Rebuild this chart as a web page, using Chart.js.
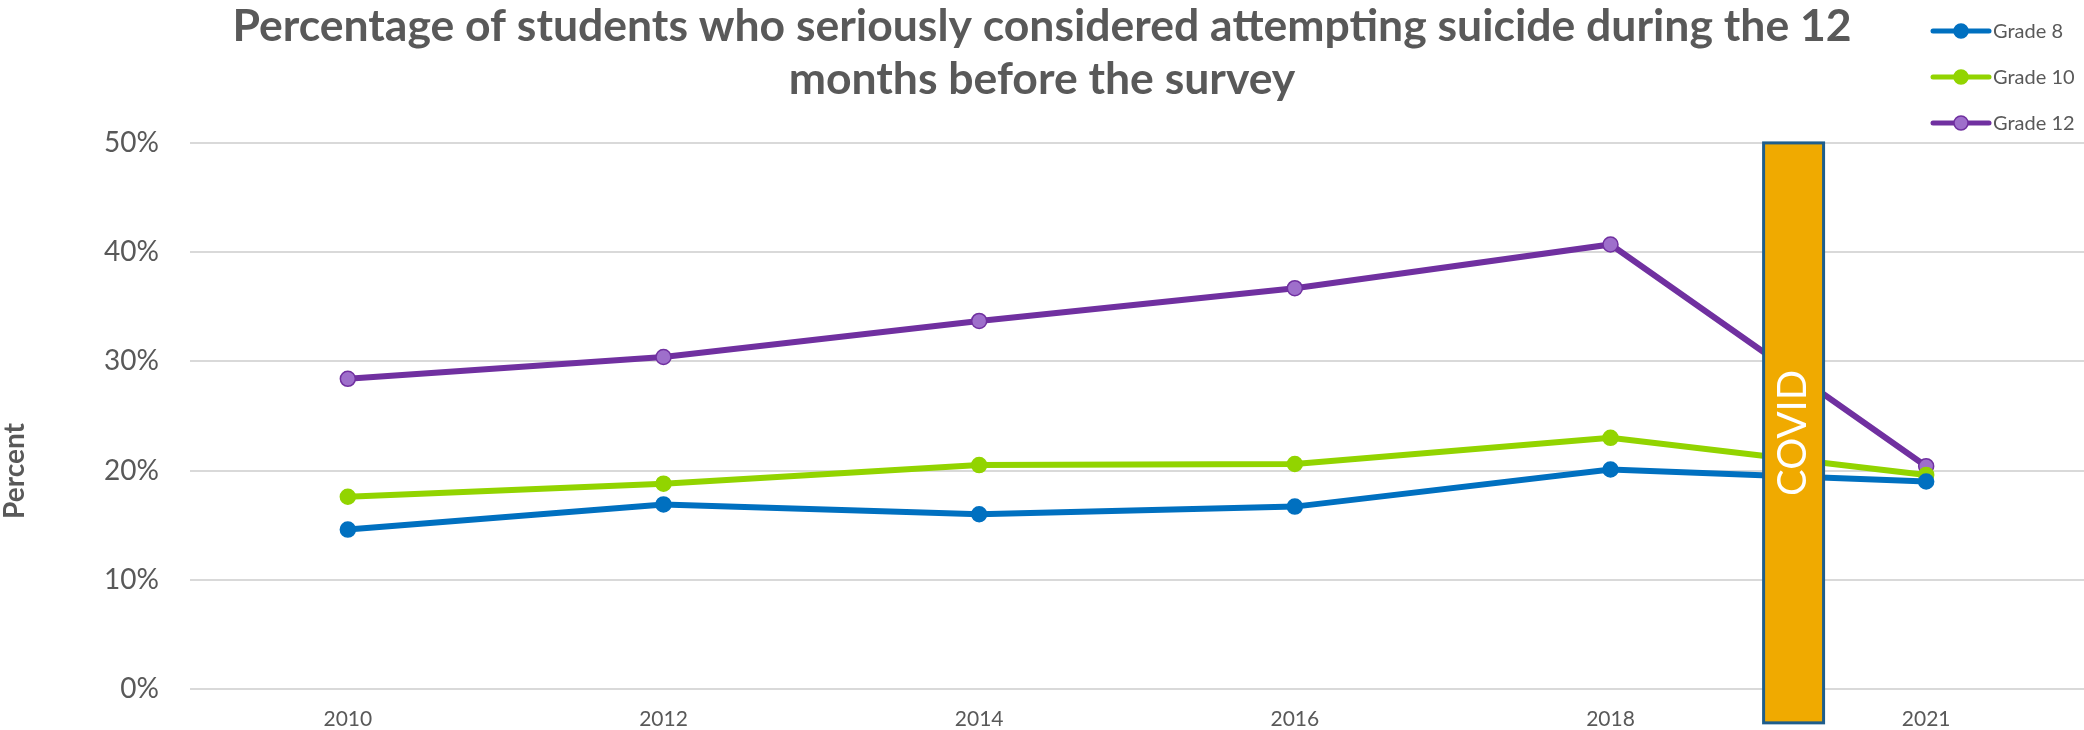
<!DOCTYPE html>
<html>
<head>
<meta charset="utf-8">
<title>Students who seriously considered attempting suicide</title>
<script src="https://cdn.jsdelivr.net/npm/chart.js@4.4.1/dist/chart.umd.min.js"></script>
<style>
  html, body { margin: 0; padding: 0; background: #fff; }
  canvas { display: block; }
</style>
</head>
<body>
<canvas id="chart" width="2084" height="730"></canvas>
<script>
var years = ['2010', '2012', '2014', '2016', '2018', '2021'];
var grade8 = [14.6, 16.9, 16.0, 16.7, 20.1, 19.0];
var grade10 = [17.6, 18.8, 20.5, 20.6, 23.0, 19.6];
var grade12 = [28.4, 30.4, 33.7, 36.7, 40.7, 20.4];
var percentTicks = [0, 10, 20, 30, 40, 50];

// covid band: position in category units (2018 = 4), height in percent
var covidCenter = 4.58;
var covidWidth = 0.19;
var covidTop = 50;
var covidBottom = -3.1;

var grey = '#595959';

document.addEventListener('DOMContentLoaded', function() {
  var ctx = document.getElementById('chart').getContext('2d');

  // orange box with vertical label, drawn over the lines
  var covidBand = {
    id: 'covidBand',
    afterDatasetsDraw: function(chart) {
      var c = chart.ctx;
      var x = chart.scales.x;
      var y = chart.scales.y;
      var step = x.getPixelForValue(1) - x.getPixelForValue(0);
      var cx = x.getPixelForValue(covidCenter);
      var w = covidWidth * step;
      var top = y.getPixelForValue(covidTop);
      var bottom = y.getPixelForValue(covidBottom);
      c.save();
      c.fillStyle = '#F0AA00';
      c.fillRect(cx - w / 2, top, w, bottom - top);
      c.strokeStyle = '#1F5E8C';
      c.lineWidth = 3;
      c.strokeRect(cx - w / 2, top, w, bottom - top);
      c.translate(cx, (top + bottom) / 2);
      c.rotate(-Math.PI / 2);
      c.fillStyle = '#fff';
      c.font = '40px Lato';
      c.textAlign = 'center';
      c.textBaseline = 'middle';
      c.fillText('COVID', 0, 0);
      c.restore();
    }
  };

  // stacked legend at the top right plus the rotated axis title
  var extras = {
    id: 'extras',
    afterDraw: function(chart) {
      var c = chart.ctx;
      var area = chart.chartArea;
      var sets = chart.data.datasets;
      c.save();
      for (var i = 0; i < sets.length; i++) {
        var ds = sets[i];
        var ly = 31 + i * 46;
        var lx = chart.width - 151;
        c.strokeStyle = ds.borderColor;
        c.lineWidth = 5;
        c.lineCap = 'round';
        c.beginPath();
        c.moveTo(lx, ly);
        c.lineTo(lx + 56, ly);
        c.stroke();
        c.beginPath();
        c.arc(lx + 28, ly, 7, 0, Math.PI * 2);
        c.fillStyle = ds.pointBackgroundColor;
        c.fill();
        c.lineWidth = 1.5;
        c.strokeStyle = ds.pointBorderColor;
        c.stroke();
        c.fillStyle = grey;
        c.font = '20px Lato';
        c.textAlign = 'left';
        c.textBaseline = 'middle';
        c.fillText(ds.label, lx + 60, ly + 1);
      }
      c.translate(15, (area.top + area.bottom) / 2 + 55);
      c.rotate(-Math.PI / 2);
      c.fillStyle = grey;
      c.font = 'bold 28px Lato';
      c.textAlign = 'center';
      c.textBaseline = 'middle';
      c.fillText('Percent', 0, 0);
      c.restore();
    }
  };

  function series(label, data, color, marker) {
    return {
      label: label,
      data: data,
      borderColor: color,
      backgroundColor: color,
      borderWidth: 6,
      pointRadius: 7.5,
      pointBackgroundColor: marker,
      pointBorderColor: color,
      pointBorderWidth: 1.5,
      tension: 0
    };
  }

  var chart = new Chart(ctx, {
    type: 'line',
    data: {
      labels: years,
      datasets: [
        series('Grade 8', grade8, '#0070C0', '#0070C0'),
        series('Grade 10', grade10, '#92D400', '#92D400'),
        series('Grade 12', grade12, '#7030A0', '#9E6FCB')
      ]
    },
    options: {
      responsive: false,
      animation: false,
      layout: { padding: 0, autoPadding: false },
      plugins: {
        legend: { display: false },
        tooltip: { enabled: false },
        title: {
          display: true,
          text: ['Percentage of students who seriously considered attempting suicide during the 12', 'months before the survey'],
          color: grey,
          font: { family: 'Lato', size: 44.5, weight: 'bold', lineHeight: 1.19 },
          padding: { top: 0, bottom: 37 }
        }
      },
      scales: {
        x: {
          offset: true,
          afterFit: function(scale) {
            scale.height = 41;
            scale.paddingLeft = 0;
            scale.paddingRight = 0;
          },
          grid: { display: false, drawTicks: false },
          border: { display: false },
          ticks: { color: grey, font: { family: 'Lato', size: 21 }, padding: 18, maxRotation: 0 }
        },
        y: {
          min: 0,
          max: 50,
          afterBuildTicks: function(scale) {
            scale.ticks = percentTicks.map(function(v) { return { value: v }; });
          },
          afterFit: function(scale) { scale.width = 190; },
          // blank tick marks keep the labels away from the plot
          grid: { color: '#D9D9D9', lineWidth: 2, drawTicks: true, tickLength: 31, tickColor: 'rgba(0,0,0,0)' },
          border: { display: false },
          ticks: {
            color: grey,
            font: { family: 'Lato', size: 28 },
            padding: 0,
            callback: function(v) { return v + '%'; }
          }
        }
      }
    },
    plugins: [covidBand, extras]
  });
});
</script>
</body>
</html>
